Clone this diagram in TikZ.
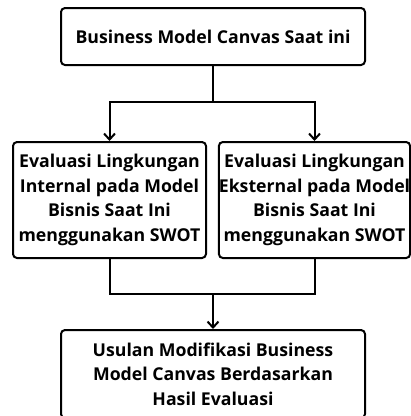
\documentclass[tikz,border=0pt]{standalone}
\usepackage{fontspec}
\setmainfont{Open Sans}
\usetikzlibrary{arrows.meta}

\tikzset{%
  process box/.style={
    draw,
    line width=2pt,
    rounded corners=4pt,
    align=center,
    inner sep=0pt,
    font=\bfseries\fontsize{17.7}{24.5}\selectfont
  },
}

\begin{document}
\begin{tikzpicture}[x=1pt, y=-1pt, >={Straight Barb[length=6pt,width=11pt]}, line width=2pt]
\useasboundingbox (0,0) rectangle (411,416);

\node [process box, minimum width=304pt, minimum height=57pt] (current) at (213,36.5)
  {Business Model Canvas Saat ini};

\foreach \m/\x/\w/\l in {internal/109.5/193/Internal, eksternal/314.5/188/Eksternal}
  \node [process box, minimum width=\w*1pt, minimum height=116pt] (\m) at (\x,200)
    {Evaluasi Lingkungan\\ \l{} pada Model\\ Bisnis Saat Ini\\ menggunakan SWOT};

\node [process box, minimum width=304pt, minimum height=88pt] (proposal) at (213,374)
  {Usulan Modifikasi Business\\ Model Canvas Berdasarkan\\ Hasil Evaluasi};

\coordinate (split) at (213,102);
\coordinate (merge) at (213,294);

\draw (current) -- (split);
\foreach \m in {internal, eksternal}
  \draw [->] (split) -| (\m);

\foreach \m in {internal, eksternal}
  \draw (\m) |- (merge);
\draw [->] (merge) -- (proposal);

\end{tikzpicture}
\end{document}
